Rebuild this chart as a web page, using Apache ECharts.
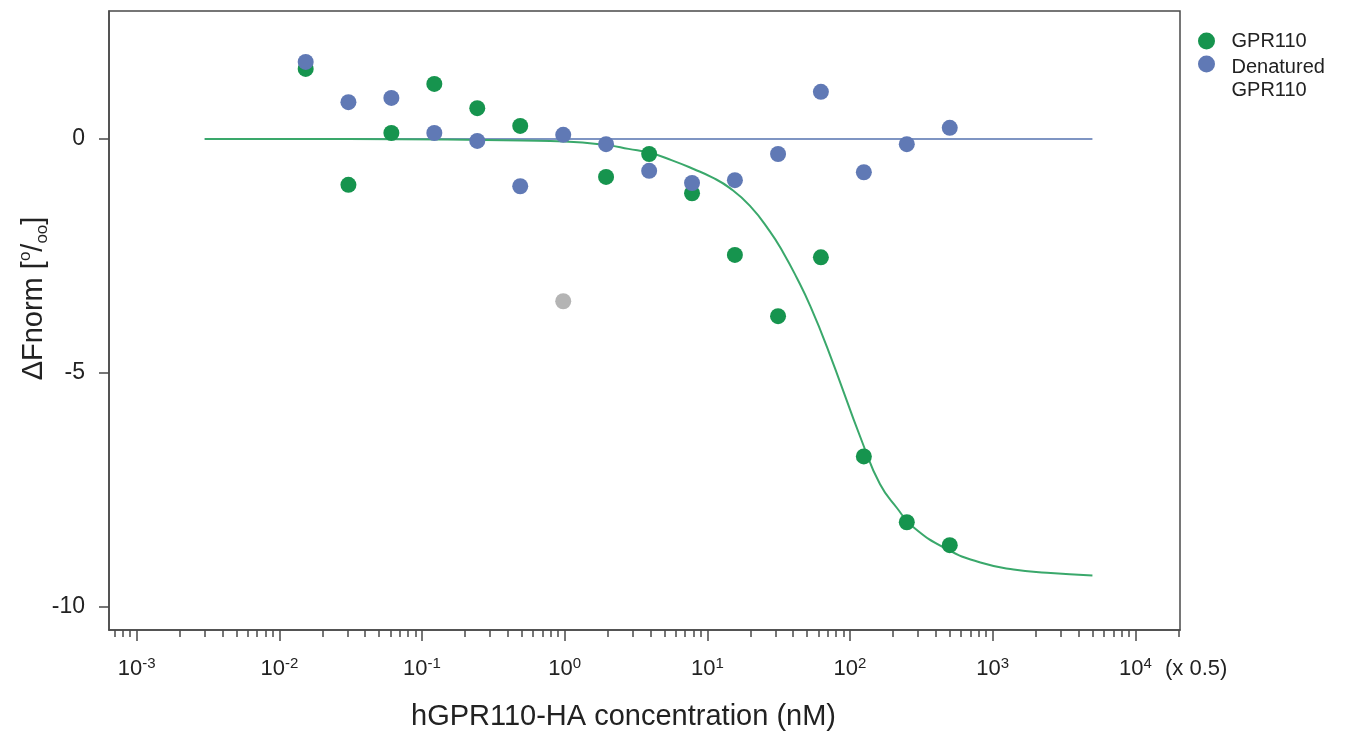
<!DOCTYPE html>
<html>
<head>
<meta charset="utf-8">
<script src="https://cdn.jsdelivr.net/npm/echarts@6/dist/echarts.min.js"></script>
<style>
  html, body { margin: 0; padding: 0; background: #ffffff; }
  #chart { width: 1346px; height: 736px; }
</style>
</head>
<body>
<div id="chart"></div>
<script>
// ---- data ----
var concentrations = [0.0153, 0.0305, 0.061, 0.122, 0.244, 0.488, 0.977, 1.95, 3.91, 7.81, 15.6, 31.3, 62.5, 125, 250, 500];
var gpr110Values    = [1.50, -0.98, 0.13, 1.18, 0.66, 0.28, null, -0.81, -0.32, -1.16, -2.48, -3.79, -2.53, -6.79, -8.20, -8.69];
var denaturedValues = [1.65, 0.79, 0.88, 0.13, -0.04, -1.01, 0.09, -0.11, -0.68, -0.94, -0.88, -0.32, 1.01, -0.71, -0.11, 0.24];
var excludedConc  = [0.977];
var excludedValue = [-3.47];

// fitted curves
var gprFitConc  = [0.003, 0.03, 0.15, 0.5, 1, 2, 2.8, 4, 5.6, 8, 10.8, 14.4, 19.9, 27.5, 33.9, 42.5, 52.4, 69, 123, 162, 214, 277, 480, 820, 1400, 2400, 5000];
var gprFitValue = [0, 0, -0.01, -0.03, -0.05, -0.13, -0.21, -0.30, -0.45, -0.64, -0.82, -1.05, -1.43, -1.98, -2.42, -2.98, -3.56, -4.45, -6.52, -7.38, -7.90, -8.30, -8.78, -9.06, -9.21, -9.28, -9.34];
var denFitConc  = [0.003, 5000];
var denFitValue = [0, 0];

// axis ticks
var xMajorTicks = [0.001, 0.01, 0.1, 1, 10, 100, 1000, 10000];
var xMajorExponents = ['-3', '-2', '-1', '0', '1', '2', '3', '4'];
var xMinorTicks = [0.0007, 0.0008, 0.0009,
  0.002, 0.003, 0.004, 0.005, 0.006, 0.007, 0.008, 0.009,
  0.02, 0.03, 0.04, 0.05, 0.06, 0.07, 0.08, 0.09,
  0.2, 0.3, 0.4, 0.5, 0.6, 0.7, 0.8, 0.9,
  2, 3, 4, 5, 6, 7, 8, 9,
  20, 30, 40, 50, 60, 70, 80, 90,
  200, 300, 400, 500, 600, 700, 800, 900,
  2000, 3000, 4000, 5000, 6000, 7000, 8000, 9000,
  20000];
var yTicks = [-10, -5, 0];
var yTickLabels = ['-10', '-5', '0'];

function zip(a, b) {
  var out = [];
  for (var i = 0; i < a.length; i++) {
    if (b[i] !== null && b[i] !== undefined) out.push([a[i], b[i]]);
  }
  return out;
}

var FONT = '"Liberation Sans", Arial, sans-serif';
var GREEN = '#16944e';
var GREEN_LINE = '#3aa86b';
var BLUE = '#6079b5';
var BLUE_LINE = '#7f95c3';
var GRAY = '#b4b4b4';
var AXIS = '#4a4a4a';
var TEXT = '#222222';

var chart = echarts.init(document.getElementById('chart'), null, { renderer: 'canvas' });

var option = {
  backgroundColor: '#ffffff',
  animation: false,
  textStyle: { fontFamily: FONT, color: TEXT },
  grid: {
    left: 109, right: 166, top: 11, bottom: 103,
    show: true, borderColor: AXIS, borderWidth: 1.5, backgroundColor: 'transparent'
  },
  legend: [{
    orient: 'vertical', left: 1198, top: 31, padding: 0,
    itemWidth: 40, itemHeight: 17,
    data: [{ name: 'GPR110', icon: 'circle' }],
    textStyle: { fontFamily: FONT, fontSize: 20, color: TEXT }
  }, {
    orient: 'vertical', left: 1198, top: 36, padding: 0,
    itemWidth: 40, itemHeight: 17,
    data: [{ name: 'Denatured GPR110', icon: 'circle' }],
    formatter: function () { return '{e| }\n{a|Denatured}\n{a|GPR110}'; },
    textStyle: {
      fontFamily: FONT, fontSize: 20, color: TEXT,
      rich: {
        e: { fontSize: 10, lineHeight: 30 },
        a: { fontFamily: FONT, fontSize: 20, color: TEXT, lineHeight: 23 }
      }
    }
  }],
  xAxis: [{
    type: 'log', logBase: 10,
    min: 0.00064, max: 20550,
    position: 'bottom',
    name: 'hGPR110-HA concentration (nM)',
    nameLocation: 'middle', nameGap: 72, nameMoveOverlap: false,
    nameTextStyle: { fontFamily: FONT, fontSize: 29, color: TEXT, padding: [0, 42, 0, 0] },
    axisLine: { show: true, onZero: false, lineStyle: { color: AXIS, width: 1.5 } },
    axisTick: { show: true, inside: false, length: 11, customValues: xMajorTicks, lineStyle: { color: AXIS, width: 1.5 } },
    axisLabel: {
      show: true, margin: 26, customValues: xMajorTicks,
      formatter: function (v) {
        var e = Math.round(Math.log10(v));
        var idx = xMajorTicks.indexOf(Math.pow(10, e));
        var exp = idx >= 0 ? xMajorExponents[idx] : String(e);
        return '{n|10}{s|' + exp + '}';
      },
      rich: {
        n: { fontFamily: FONT, fontSize: 22, color: TEXT, lineHeight: 26 },
        s: { fontFamily: FONT, fontSize: 15, color: TEXT, verticalAlign: 'top', lineHeight: 14 }
      }
    },
    splitLine: { show: false }
  }, {
    type: 'log', logBase: 10,
    min: 0.00064, max: 20550,
    position: 'bottom',
    name: '(x 0.5)',
    nameLocation: 'end', nameGap: -15, nameMoveOverlap: false,
    nameTextStyle: { fontFamily: FONT, fontSize: 22, color: TEXT, verticalAlign: 'top', padding: [28, 0, 0, 0] },
    axisLine: { show: false, onZero: false },
    axisTick: { show: true, inside: false, length: 7, customValues: xMinorTicks, lineStyle: { color: AXIS, width: 1.5 } },
    axisLabel: { show: false },
    splitLine: { show: false }
  }],
  yAxis: {
    type: 'value',
    min: -10.505, max: 2.74,
    name: '{a|\u0394Fnorm [}{sup|o}{a|/}{sub|oo}{a|]}',
    nameLocation: 'middle', nameGap: 58, nameRotate: 90, nameMoveOverlap: false,
    nameTextStyle: {
      padding: [0, 0, 0, 44],
      rich: {
        a: { fontFamily: FONT, fontSize: 29, color: TEXT, lineHeight: 34 },
        sup: { fontFamily: FONT, fontSize: 17, color: TEXT, verticalAlign: 'top', lineHeight: 17 },
        sub: { fontFamily: FONT, fontSize: 17, color: TEXT, verticalAlign: 'bottom', lineHeight: 17 }
      }
    },
    axisLine: { show: true, onZero: false, lineStyle: { color: AXIS, width: 1.5 } },
    axisTick: { show: true, inside: false, length: 10, customValues: yTicks, lineStyle: { color: AXIS, width: 1.5 } },
    axisLabel: {
      show: true, margin: 24, customValues: yTicks,
      fontFamily: FONT, fontSize: 23, color: TEXT,
      formatter: function (v) {
        var idx = yTicks.indexOf(v);
        return idx >= 0 ? yTickLabels[idx] : String(v);
      }
    },
    splitLine: { show: false }
  },
  series: [
    {
      name: 'Denatured fit', type: 'line', xAxisIndex: 0,
      data: zip(denFitConc, denFitValue),
      showSymbol: false, symbol: 'none', z: 2,
      lineStyle: { color: BLUE_LINE, width: 2 }, silent: true
    },
    {
      name: 'GPR110 fit', type: 'line', xAxisIndex: 0,
      data: zip(gprFitConc, gprFitValue),
      showSymbol: false, symbol: 'none', smooth: 0.5, z: 2,
      lineStyle: { color: GREEN_LINE, width: 2 }, silent: true
    },
    {
      name: 'GPR110', type: 'scatter', xAxisIndex: 0,
      data: zip(concentrations, gpr110Values),
      symbol: 'circle', symbolSize: 16, z: 4,
      itemStyle: { color: GREEN, opacity: 1 }
    },
    {
      name: 'Denatured GPR110', type: 'scatter', xAxisIndex: 0,
      data: zip(concentrations, denaturedValues),
      symbol: 'circle', symbolSize: 16, z: 5,
      itemStyle: { color: BLUE, opacity: 1 }
    },
    {
      name: 'Excluded', type: 'scatter', xAxisIndex: 0,
      data: zip(excludedConc, excludedValue),
      symbol: 'circle', symbolSize: 16, z: 4,
      itemStyle: { color: GRAY, opacity: 1 }
    }
  ]
};

chart.setOption(option);
</script>
</body>
</html>
